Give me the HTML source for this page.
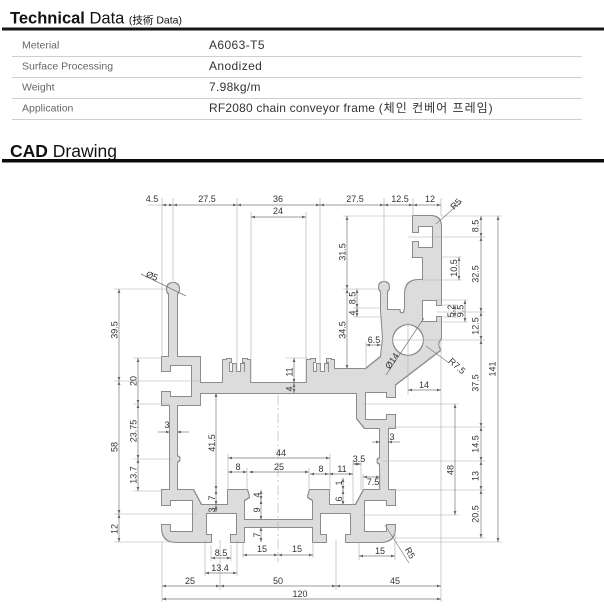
<!DOCTYPE html>
<html>
<head>
<meta charset="utf-8">
<style>
html,body{margin:0;padding:0;background:#fff;}
svg{display:block;}
.t{font-family:"Liberation Sans","Noto Sans CJK KR",sans-serif;font-size:9px;fill:#333;text-anchor:middle;}
.d{stroke:#7a7a7a;stroke-width:0.7;fill:none;}
.e{stroke:#ababab;stroke-width:0.6;fill:none;}
</style>
</head>
<body>
<svg width="604" height="613" viewBox="0 0 604 613" xmlns="http://www.w3.org/2000/svg">
<defs>
<marker id="ar" viewBox="0 0 10 10" refX="10" refY="5" markerWidth="5" markerHeight="4" orient="auto-start-reverse" markerUnits="userSpaceOnUse">
<path d="M0,1.5 L10,5 L0,8.5 z" fill="#666"/>
</marker>
<mask id="m" maskUnits="userSpaceOnUse" x="0" y="0" width="604" height="613">
<rect x="0" y="0" width="604" height="613" fill="#fff"/>
<g fill="#000">
<rect x="170" y="365" width="22" height="32"/>
<rect x="155" y="371" width="17" height="21"/>
<rect x="170" y="500" width="23" height="32"/>
<rect x="155" y="505" width="17" height="20"/>
<rect x="206" y="513" width="31" height="22"/>
<rect x="211" y="530" width="20" height="16"/>
<rect x="364" y="500" width="23" height="32"/>
<rect x="385" y="505" width="17" height="20"/>
<rect x="320" y="513" width="31" height="22"/>
<rect x="326" y="530" width="20" height="16"/>
<rect x="365" y="392" width="22" height="28"/>
<rect x="385" y="397" width="17" height="18"/>
<rect x="418" y="226" width="15" height="22"/>
<rect x="408" y="232" width="14" height="10"/>
<rect x="422" y="300" width="15" height="22"/>
<rect x="435" y="305" width="12" height="12"/>
<circle cx="408" cy="340" r="16"/>
<circle cx="402" cy="311" r="2.5"/>
</g>
</mask>
<filter id="ol" filterUnits="userSpaceOnUse" x="0" y="0" width="604" height="613">
<feMorphology in="SourceAlpha" operator="dilate" radius="0.8" result="d"/>
<feFlood flood-color="#8c8c8c" result="c"/>
<feComposite in="c" in2="d" operator="in" result="o"/>
<feMerge><feMergeNode in="o"/><feMergeNode in="SourceGraphic"/></feMerge>
</filter>
</defs>

<!-- Header -->
<text x="10" y="23.5" font-family="Liberation Sans, sans-serif" font-size="16.5" fill="#111"><tspan font-weight="bold">Technical</tspan> Data <tspan font-size="10.5" font-family="Liberation Sans, Noto Sans CJK JP, sans-serif">(技術 Data)</tspan></text>
<rect x="2" y="27.5" width="602" height="3" fill="#161616"/>

<g font-family="Liberation Sans, Noto Sans CJK KR, sans-serif">
<text x="22" y="48.5" font-size="10.5" fill="#666">Meterial</text>
<text x="22" y="69.5" font-size="10.5" fill="#666">Surface Processing</text>
<text x="22" y="90.5" font-size="10.5" fill="#666">Weight</text>
<text x="22" y="111.5" font-size="10.5" fill="#666">Application</text>
<text x="209" y="49" font-size="12" fill="#333" letter-spacing="0.4">A6063-T5</text>
<text x="209" y="70" font-size="12" fill="#333" letter-spacing="0.4">Anodized</text>
<text x="209" y="91" font-size="12" fill="#333" letter-spacing="0.3">7.98kg/m</text>
<text x="209" y="112" font-size="12" fill="#333" letter-spacing="0.2">RF2080 chain conveyor frame <tspan letter-spacing="1">(체인 컨베어 프레임)</tspan></text>
</g>
<g stroke="#cfcfcf" stroke-width="1">
<line x1="12" y1="56.5" x2="582" y2="56.5"/>
<line x1="12" y1="77.5" x2="582" y2="77.5"/>
<line x1="12" y1="98.5" x2="582" y2="98.5"/>
<line x1="12" y1="119.5" x2="582" y2="119.5"/>
</g>

<text x="10" y="157" font-family="Liberation Sans, sans-serif" font-size="17.5" fill="#111"><tspan font-weight="bold">CAD</tspan> Drawing</text>
<rect x="2" y="159" width="602" height="3.5" fill="#0c0c0c"/>

<!-- Profile -->
<g filter="url(#ol)">
<g mask="url(#m)" fill="#dcdcdc">
<rect x="169" y="289" width="8" height="70"/>
<circle cx="173" cy="289" r="6"/>
<rect x="162" y="357" width="38" height="48"/>
<rect x="170" y="405" width="7" height="86"/>
<circle cx="177" cy="459" r="2.5"/>
<path d="M162,490 H193 L201,505 H243 V542 H177 Q162,542 162,527 Z"/>
<path d="M228,490 H247 L249,497 L244,500 V542 H228 Z"/>
<rect x="243" y="520" width="71" height="7"/>
<path d="M329,490 H310 L308,497 L313,500 V542 H329 Z"/>
<path d="M395,490 H364 L356,505 H314 V542 H380 Q395,542 395,527 Z"/>
<rect x="380" y="428" width="8" height="63"/>
<circle cx="380" cy="461" r="2.5"/>
<rect x="195" y="383" width="165" height="10"/>
<rect x="223" y="372" width="27" height="12"/>
<rect x="223" y="360" width="6" height="13"/>
<rect x="233" y="364" width="3" height="9"/>
<rect x="241" y="364" width="3" height="9"/>
<rect x="245" y="360" width="5" height="13"/>
<rect x="227" y="359" width="4" height="3"/>
<rect x="243" y="359" width="4" height="3"/>
<rect x="307" y="372" width="27" height="12"/>
<rect x="307" y="360" width="6" height="13"/>
<rect x="317" y="364" width="3" height="9"/>
<rect x="325" y="364" width="3" height="9"/>
<rect x="329" y="360" width="5" height="13"/>
<rect x="311" y="359" width="4" height="3"/>
<rect x="327" y="359" width="4" height="3"/>
<path d="M357,384 H395 V428 H365 L357,418 Z"/>
<path d="M333,383 V369 H366 L381,357 L383,338 L381,310 H405 V295 Q405,280 419,280 H423 V257 H413 V216 H430 Q441,216 441,227 V338 Q436,344 440,350 L393,386 H357 V393 H333 Z"/>
<rect x="381" y="287" width="6" height="24"/>
<circle cx="384" cy="287" r="5"/>
</g>
</g>

<!-- Extension lines -->
<g class="e">
<line x1="162" y1="198" x2="162" y2="357"/>
<line x1="173" y1="198" x2="173" y2="283"/>
<line x1="237" y1="198" x2="237" y2="372"/>
<line x1="320" y1="198" x2="320" y2="372"/>
<line x1="384" y1="198" x2="384" y2="282"/>
<line x1="413" y1="198" x2="413" y2="216"/>
<line x1="441" y1="198" x2="441" y2="216"/>
<line x1="251" y1="212" x2="251" y2="383"/>
<line x1="306" y1="212" x2="306" y2="383"/>
<line x1="441" y1="340" x2="441" y2="602"/>
<line x1="162" y1="542" x2="162" y2="602"/>
<line x1="220" y1="540" x2="220" y2="590"/>
<line x1="336" y1="540" x2="336" y2="590"/>
<line x1="205" y1="540" x2="205" y2="576"/>
<line x1="237" y1="540" x2="237" y2="576"/>
<line x1="211" y1="545" x2="211" y2="561"/>
<line x1="231" y1="545" x2="231" y2="561"/>
<line x1="243" y1="542" x2="243" y2="558"/>
<line x1="313" y1="542" x2="313" y2="558"/>
<line x1="359" y1="542" x2="359" y2="560"/>
<line x1="395" y1="530" x2="395" y2="560"/>
<line x1="228" y1="454" x2="228" y2="490"/>
<line x1="330" y1="454" x2="330" y2="490"/>
<line x1="247" y1="468" x2="247" y2="490"/>
<line x1="309" y1="468" x2="309" y2="490"/>
<line x1="353" y1="460" x2="353" y2="505"/>
<line x1="361" y1="460" x2="361" y2="490"/>
<line x1="363" y1="474" x2="363" y2="490"/>
<line x1="380" y1="474" x2="380" y2="490"/>
<line x1="366" y1="342" x2="366" y2="370"/>
<line x1="408" y1="322" x2="408" y2="395"/>
<line x1="114" y1="289" x2="168" y2="289"/>
<line x1="114" y1="381" x2="200" y2="381"/>
<line x1="133" y1="358" x2="162" y2="358"/>
<line x1="133" y1="404" x2="170" y2="404"/>
<line x1="133" y1="459" x2="172" y2="459"/>
<line x1="133" y1="491" x2="163" y2="491"/>
<line x1="114" y1="514" x2="197" y2="514"/>
<line x1="114" y1="542" x2="177" y2="542"/>
<line x1="343" y1="216" x2="413" y2="216"/>
<line x1="343" y1="289" x2="380" y2="289"/>
<line x1="353" y1="308" x2="381" y2="308"/>
<line x1="353" y1="317" x2="381" y2="317"/>
<line x1="286" y1="358" x2="308" y2="358"/>
<line x1="441" y1="216" x2="502" y2="216"/>
<line x1="408" y1="237" x2="485" y2="237"/>
<line x1="441" y1="257" x2="462" y2="257"/>
<line x1="423" y1="280" x2="462" y2="280"/>
<line x1="437" y1="300" x2="468" y2="300"/>
<line x1="437" y1="322" x2="468" y2="322"/>
<line x1="441" y1="305" x2="458" y2="305"/>
<line x1="441" y1="317" x2="458" y2="317"/>
<line x1="437" y1="312" x2="485" y2="312"/>
<line x1="392" y1="340" x2="485" y2="340"/>
<line x1="388" y1="427" x2="485" y2="427"/>
<line x1="383" y1="461" x2="485" y2="461"/>
<line x1="388" y1="490" x2="485" y2="490"/>
<line x1="395" y1="538" x2="485" y2="538"/>
<line x1="395" y1="542" x2="502" y2="542"/>
<line x1="363" y1="404" x2="459" y2="404"/>
<line x1="362" y1="515" x2="459" y2="515"/>
<line x1="148" y1="205" x2="162" y2="205"/>
<line x1="278" y1="395" x2="278" y2="562" stroke-dasharray="10 3 2 3"/>
</g>

<!-- Dimension lines -->
<g class="d" marker-start="url(#ar)" marker-end="url(#ar)">
<line x1="162" y1="205" x2="173" y2="205"/>
<line x1="173" y1="205" x2="237" y2="205"/>
<line x1="237" y1="205" x2="320" y2="205"/>
<line x1="320" y1="205" x2="384" y2="205"/>
<line x1="384" y1="205" x2="413" y2="205"/>
<line x1="413" y1="205" x2="441" y2="205"/>
<line x1="251" y1="217" x2="306" y2="217"/>
<line x1="119" y1="289" x2="119" y2="381"/>
<line x1="119" y1="381" x2="119" y2="514"/>
<line x1="119" y1="514" x2="119" y2="542"/>
<line x1="138" y1="358" x2="138" y2="404"/>
<line x1="138" y1="404" x2="138" y2="459"/>
<line x1="138" y1="459" x2="138" y2="491"/>
<line x1="216" y1="393" x2="216" y2="490"/>
<line x1="216" y1="490" x2="216" y2="505"/>
<line x1="216" y1="505" x2="216" y2="512"/>
<line x1="261" y1="490" x2="261" y2="500"/>
<line x1="261" y1="500" x2="261" y2="520"/>
<line x1="261" y1="527" x2="261" y2="542"/>
<line x1="211" y1="558" x2="231" y2="558"/>
<line x1="205" y1="573" x2="237" y2="573"/>
<line x1="243" y1="555" x2="278" y2="555"/>
<line x1="278" y1="555" x2="313" y2="555"/>
<line x1="359" y1="556" x2="395" y2="556"/>
<line x1="162" y1="586" x2="220" y2="586"/>
<line x1="220" y1="586" x2="336" y2="586"/>
<line x1="336" y1="586" x2="441" y2="586"/>
<line x1="162" y1="599" x2="441" y2="599"/>
<line x1="228" y1="458" x2="330" y2="458"/>
<line x1="228" y1="472" x2="247" y2="472"/>
<line x1="249" y1="472" x2="309" y2="472"/>
<line x1="310" y1="474" x2="329" y2="474"/>
<line x1="329" y1="474" x2="353" y2="474"/>
<line x1="353" y1="464" x2="361" y2="464"/>
<line x1="363" y1="477" x2="380" y2="477"/>
<line x1="343" y1="478" x2="343" y2="490"/>
<line x1="343" y1="490" x2="343" y2="505"/>
<line x1="294" y1="358" x2="294" y2="383"/>
<line x1="294" y1="383" x2="294" y2="393"/>
<line x1="347" y1="216" x2="347" y2="289"/>
<line x1="347" y1="289" x2="347" y2="369"/>
<line x1="357" y1="289" x2="357" y2="308"/>
<line x1="357" y1="308" x2="357" y2="317"/>
<line x1="366" y1="345" x2="381" y2="345"/>
<line x1="408" y1="390" x2="441" y2="390"/>
<line x1="459" y1="257" x2="459" y2="280"/>
<line x1="455" y1="305" x2="455" y2="317"/>
<line x1="465" y1="300" x2="465" y2="322"/>
<line x1="481" y1="216" x2="481" y2="237"/>
<line x1="481" y1="237" x2="481" y2="312"/>
<line x1="481" y1="312" x2="481" y2="340"/>
<line x1="481" y1="340" x2="481" y2="427"/>
<line x1="481" y1="427" x2="481" y2="461"/>
<line x1="481" y1="461" x2="481" y2="490"/>
<line x1="481" y1="490" x2="481" y2="538"/>
<line x1="498" y1="216" x2="498" y2="542"/>
<line x1="455" y1="404" x2="455" y2="515"/>
</g>
<g class="d" marker-end="url(#ar)">
<line x1="158" y1="432" x2="170" y2="432"/>
<line x1="189" y1="432" x2="177" y2="432"/>
<line x1="372" y1="442" x2="380" y2="442"/>
<line x1="400" y1="442" x2="388" y2="442"/>
</g>
<!-- Leaders -->
<g class="d">
<line x1="141" y1="274" x2="186" y2="296"/>
<line x1="386" y1="375" x2="424" y2="318"/>
<line x1="426" y1="346" x2="449" y2="363"/>
<line x1="436" y1="224" x2="462" y2="201"/>
<line x1="385" y1="525" x2="409" y2="563"/>
</g>

<!-- Labels -->
<g class="t">
<text x="152" y="202">4.5</text>
<text x="207" y="202">27.5</text>
<text x="278" y="202">36</text>
<text x="355" y="202">27.5</text>
<text x="400" y="202">12.5</text>
<text x="430" y="202">12</text>
<text x="278" y="214">24</text>
<text transform="translate(114.5,330) rotate(-90)" dy="3">39.5</text>
<text transform="translate(133.5,381) rotate(-90)" dy="3">20</text>
<text transform="translate(114.5,447) rotate(-90)" dy="3">58</text>
<text transform="translate(133.5,431) rotate(-90)" dy="3">23.75</text>
<text transform="translate(133.5,475) rotate(-90)" dy="3">13.7</text>
<text transform="translate(114.5,529) rotate(-90)" dy="3">12</text>
<text transform="translate(212,443) rotate(-90)" dy="3">41.5</text>
<text transform="translate(212,498) rotate(-90)" dy="3">7</text>
<text transform="translate(212,510) rotate(-90)" dy="3">3</text>
<text x="167" y="428">3</text>
<text transform="translate(257,495) rotate(-90)" dy="3">4</text>
<text transform="translate(257,510) rotate(-90)" dy="3">9</text>
<text transform="translate(257,535) rotate(-90)" dy="3">7</text>
<text x="221" y="556">8.5</text>
<text x="220" y="571">13.4</text>
<text x="262" y="552">15</text>
<text x="297" y="552">15</text>
<text x="380" y="554">15</text>
<text x="190" y="584">25</text>
<text x="278" y="584">50</text>
<text x="395" y="584">45</text>
<text x="300" y="597">120</text>
<text x="281" y="456">44</text>
<text x="238" y="470">8</text>
<text x="279" y="470">25</text>
<text x="321" y="472">8</text>
<text x="342" y="472">11</text>
<text x="359" y="462">3.5</text>
<text x="373" y="485">7.5</text>
<text transform="translate(339,483) rotate(-90)" dy="3">1</text>
<text transform="translate(339,499) rotate(-90)" dy="3">6</text>
<text transform="translate(289.5,372) rotate(-90)" dy="3">11</text>
<text transform="translate(289.5,389) rotate(-90)" dy="3">4</text>
<text transform="translate(342.5,252) rotate(-90)" dy="3">31.5</text>
<text transform="translate(342.5,330) rotate(-90)" dy="3">34.5</text>
<text transform="translate(352.5,298) rotate(-90)" dy="3">8.5</text>
<text transform="translate(352.5,313) rotate(-90)" dy="3">4</text>
<text x="374" y="343">6.5</text>
<text x="424" y="388">14</text>
<text transform="translate(454,268) rotate(-90)" dy="3">10.5</text>
<text transform="translate(451,311) rotate(-90)" dy="3">5.2</text>
<text transform="translate(460.5,311) rotate(-90)" dy="3">9.5</text>
<text transform="translate(475.5,226) rotate(-90)" dy="3">8.5</text>
<text transform="translate(475.5,274) rotate(-90)" dy="3">32.5</text>
<text transform="translate(475.5,326) rotate(-90)" dy="3">12.5</text>
<text transform="translate(475.5,383) rotate(-90)" dy="3">37.5</text>
<text transform="translate(475.5,444) rotate(-90)" dy="3">14.5</text>
<text transform="translate(475.5,476) rotate(-90)" dy="3">13</text>
<text transform="translate(475.5,514) rotate(-90)" dy="3">20.5</text>
<text transform="translate(492.5,369) rotate(-90)" dy="3">141</text>
<text transform="translate(450.5,470) rotate(-90)" dy="3">48</text>
<text x="392" y="440">3</text>
<text transform="translate(392,361) rotate(-56)" dy="3">Ø14</text>
<text transform="translate(457,366) rotate(42)" dy="3">R7.5</text>
<text transform="translate(456,204) rotate(-45)" dy="3">R5</text>
<text transform="translate(410,553) rotate(60)" dy="3">R5</text>
<text transform="translate(152,276) rotate(22)" dy="3">Ø5</text>
</g>
</svg>
</body>
</html>
